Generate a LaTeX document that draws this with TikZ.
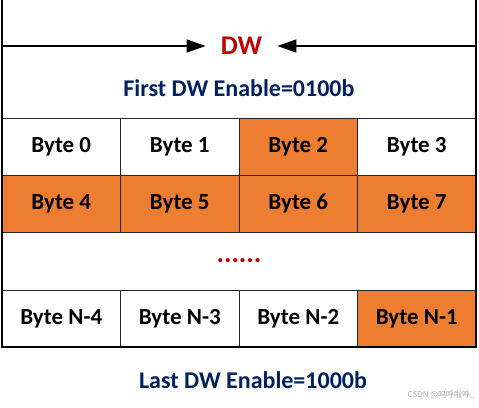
\documentclass[tikz,border=0pt]{standalone}
\usepackage{fontspec}
\setmainfont{Carlito}
\newfontfamily\cjk{Noto Sans CJK SC}
\usetikzlibrary{arrows.meta}
\usetikzlibrary{positioning}
\definecolor{byteorange}{HTML}{ED7D31}
\definecolor{dwred}{HTML}{C00000}
\definecolor{dwblue}{HTML}{002060}

\begin{document}
\begin{tikzpicture}[x=1pt,y=1pt]
\tikzset{bytecell/.style={rectangle,draw=black!85,line width=0.8pt,minimum width=118.5pt,minimum height=57pt,inner sep=0pt,outer sep=0pt,font=\fontsize{23}{26}\selectfont\bfseries},
onbyte/.style={bytecell,fill=byteorange},
enlabel/.style={text=dwblue,font=\fontsize{24}{28}\selectfont\bfseries}}
\useasboundingbox (0,0) rectangle (479,-407);
\coordinate (topl) at (2,0);
\coordinate (topr) at (476,0);
% byte rows
\node[bytecell](b0) at (61.25,-146.5){Byte 0};
\node[bytecell,right=0pt of b0](b1){Byte 1};
\node[onbyte,right=0pt of b1](b2){Byte 2};
\node[bytecell,right=0pt of b2](b3){Byte 3};
\node[onbyte,below=0pt of b0](b4){Byte 4};
\node[onbyte,right=0pt of b4](b5){Byte 5};
\node[onbyte,right=0pt of b5](b6){Byte 6};
\node[onbyte,right=0pt of b6](b7){Byte 7};
\node[bytecell,minimum width=474pt,minimum height=58pt,anchor=north west,text=dwred,font=\fontsize{28}{30}\selectfont\bfseries](gap) at (b4.south west){......};
\node[bytecell,anchor=north west](bn4) at (gap.south west){Byte N-4};
\node[bytecell,right=0pt of bn4](bn3){Byte N-3};
\node[bytecell,right=0pt of bn3](bn2){Byte N-2};
\node[onbyte,right=0pt of bn2](bn1){Byte N-1};
\draw[line width=2pt](topl) -- (bn4.south west) -- (bn1.south east) -- (topr);
% DW width
\node[text=dwred,font=\fontsize{27}{30}\selectfont\bfseries,outer sep=12pt](dw) at (241.5,-46){DW};
\coordinate (al) at (topl |- dw);
\coordinate (ar) at (topr |- dw);
\draw[line width=1.6pt,-{Triangle[length=19pt,width=13pt]}](al) -- (dw);
\draw[line width=1.6pt,-{Triangle[length=19pt,width=13pt]}](ar) -- (dw);
\node[enlabel](first) at (239,-88){First DW Enable=0100b};
\node[enlabel](last) at (253,-380){Last DW Enable=1000b};
\node[text=black!35,font=\cjk\fontsize{8}{9}\selectfont,anchor=east](mark) at (478,-395){CSDN @呜呼啦呼\_};
\end{tikzpicture}
\end{document}
